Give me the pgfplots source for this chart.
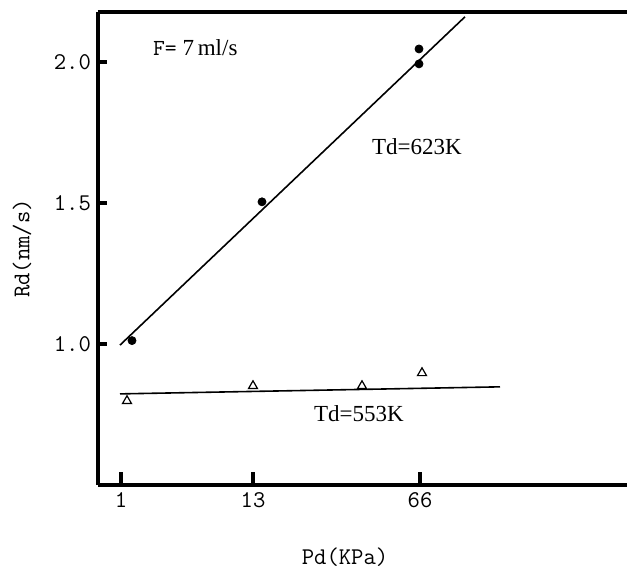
\documentclass[border=0pt]{standalone}
\usepackage{pgfplots}
\pgfplotsset{compat=1.18}
\usepackage{fontspec}
\setmainfont{Liberation Serif}
\pgfplotsset{
  every tick/.style={line width=2.4pt, black},
  every major tick/.style={line width=2.4pt, black},
}
\begin{document}
\begin{tikzpicture}
\useasboundingbox (-49pt,-41pt) rectangle (264.5pt,242.5pt);
\begin{axis}[
  at={(0,0)}, anchor=south west,
  scale only axis,
  width=264.5pt, height=236.5pt,
  xmin=98, xmax=627, ymin=0.5, ymax=2.177,
  axis x line=box, axis y line=left,
  x axis line style={-, line width=2pt},
  y axis line style={-, line width=2pt},
  xtick pos=bottom, ytick pos=left,
  tick align=inside,
  every tick/.style={line width=2.4pt, black},
  every major tick/.style={line width=2.4pt, black},
  xtick style={line width=2.4pt},
  ytick style={line width=2.4pt},
  xtick=\empty, ytick=\empty,
  extra x ticks={121,253,420}, extra x tick labels={1,13,66},
  extra x tick style={major tick length=6.5pt, tick style={line width=2.4pt, black}, xtick style={line width=2.4pt}},
  extra y ticks={1.0,1.5,2.0}, extra y tick labels={1.0,1.5,2.0},
  extra y tick style={major tick length=4.5pt, tick style={line width=2.4pt, black}, ytick style={line width=2.4pt}},
  /pgf/number format/assume math mode=true,
  tick label style={font=\ttfamily\fontsize{12}{14}\selectfont},
  xlabel={Pd(KPa)}, ylabel={Rd(nm/s)},
  label style={font=\ttfamily\fontsize{12}{14}\selectfont},
  xlabel style={at={(axis description cs:0.467,0)}, anchor=center, yshift=-36pt},
  ylabel style={at={(axis description cs:-0.1437,0.5)}, anchor=center},
  clip=false,
]
% Td=623K fit line
\addplot[black, line width=0.8pt] coordinates {(120,0.996) (465,2.160)};
% Td=623K data
\addplot[only marks, mark=*, mark size=2pt, black] coordinates {
(132,1.012) (262,1.504) (419,2.046) (419,1.993)};
% Td=553K fit line
\addplot[black, line width=0.8pt] coordinates {(120,0.823) (500,0.848)};
% Td=553K data
\addplot[only marks, mark=triangle, mark size=2.6pt, black, mark options={line width=0.6pt}] coordinates {
(127,0.798) (253,0.851) (362,0.851) (422,0.897)};
\node[anchor=west, font=\fontsize{11.5}{13}\selectfont] at (axis cs:146,2.05) {\texttt{F=} 7\,ml/s};
\node[font=\fontsize{11.5}{13}\selectfont] at (axis cs:417,1.699) {Td=623K};
\node[font=\fontsize{11.5}{13}\selectfont] at (axis cs:359,0.752) {Td=553K};
\end{axis}
\end{tikzpicture}
\end{document}
